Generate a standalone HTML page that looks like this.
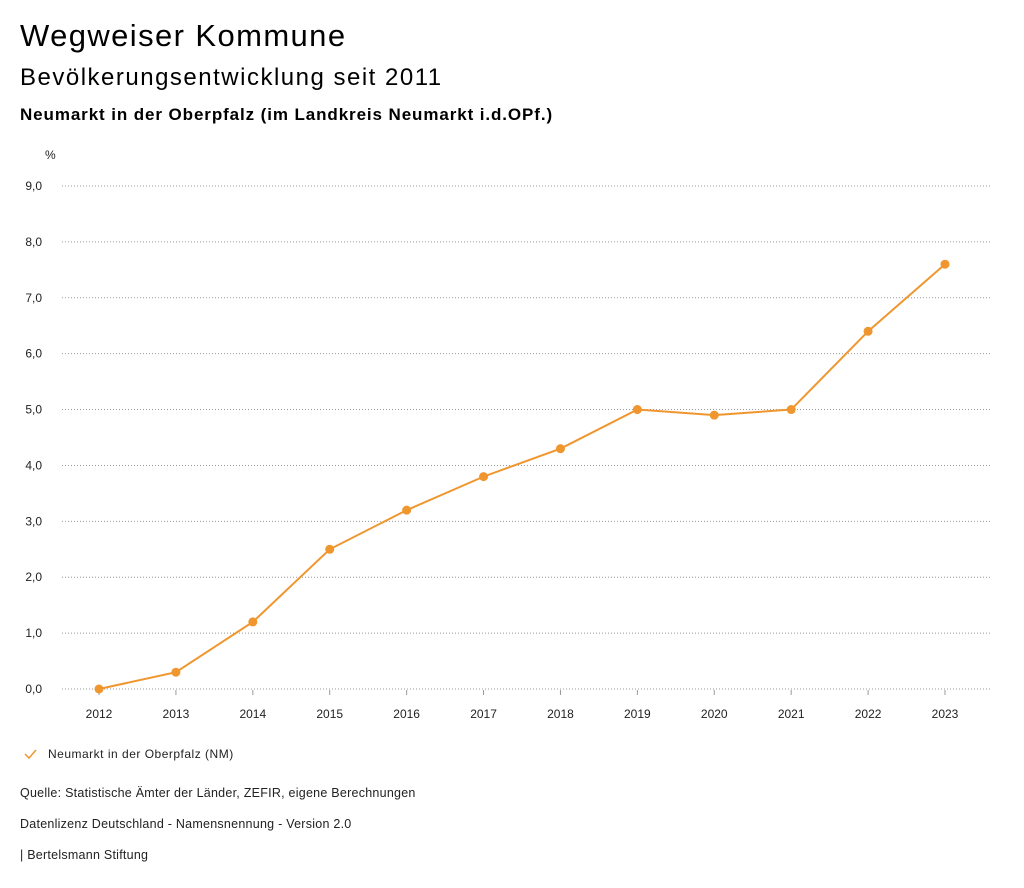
<!DOCTYPE html>
<html><head><meta charset="utf-8">
<style>
body{margin:0;background:#fff;width:1024px;height:888px;overflow:hidden;font-family:"Liberation Sans",sans-serif;color:#000}
.t1{position:absolute;left:20px;top:18px;font-size:31px;letter-spacing:1.4px}
.t2{position:absolute;left:20px;top:64px;font-size:24px;letter-spacing:1.5px}
.t3{position:absolute;left:20px;top:105px;font-size:17px;font-weight:bold;letter-spacing:0.9px}
.src{position:absolute;left:20px;font-size:12.5px;color:#222;letter-spacing:0.25px}
</style></head><body>
<div class="t1">Wegweiser Kommune</div>
<div class="t2">Bevölkerungsentwicklung seit 2011</div>
<div class="t3">Neumarkt in der Oberpfalz (im Landkreis Neumarkt i.d.OPf.)</div>
<svg id="chart" width="1024" height="888" style="position:absolute;left:0;top:0"></svg>
<div class="src" style="top:786px">Quelle: Statistische Ämter der Länder, ZEFIR, eigene Berechnungen</div>
<div class="src" style="top:817px">Datenlizenz Deutschland - Namensnennung - Version 2.0</div>
<div class="src" style="top:848px">| Bertelsmann Stiftung</div>
<script>
const years=[2012,2013,2014,2015,2016,2017,2018,2019,2020,2021,2022,2023];
const values=[0.0,0.3,1.2,2.5,3.2,3.8,4.3,5.0,4.9,5.0,6.4,7.6];
const yTicks=[0,1,2,3,4,5,6,7,8,9];
const NS="http://www.w3.org/2000/svg";
const svg=document.getElementById('chart');
const color="#f0962e";
function xs(i){return 99+i*(945-99)/(years.length-1);}
function ys(v){return 689-v*(689-186)/9;}
function mk(tag,a,txt){const e=document.createElementNS(NS,tag);for(const k in a)e.setAttribute(k,a[k]);if(txt!==undefined)e.textContent=txt;svg.appendChild(e);return e;}
const unit=mk('text',{x:45,y:159,'font-size':12,fill:'#222','font-family':'Liberation Sans'},'%');


yTicks.forEach(v=>{
 const y=ys(v);
 const g=mk('line',{x1:62,x2:990,y1:y,y2:y,stroke:'#999','stroke-width':1,'stroke-dasharray':'1,2'});
 
 
 const t=mk('text',{x:42,y:y+4,'font-size':12,'text-anchor':'end',fill:'#222','font-family':'Liberation Sans'},v.toFixed(1).replace('.',','));
 
 
});
years.forEach((yr,i)=>{
 const x=xs(i);
 const tk=mk('line',{x1:x,x2:x,y1:690,y2:695,stroke:'#999','stroke-width':1});
 
 
 const t=mk('text',{x:x,y:718,'font-size':12,'text-anchor':'middle',fill:'#222','font-family':'Liberation Sans'},yr);
 
 
});
const line=mk('polyline',{points:values.map((v,i)=>xs(i)+','+ys(v)).join(' '),fill:'none',stroke:color,'stroke-width':2});


values.forEach((v,i)=>{
 const c=mk('circle',{cx:xs(i),cy:ys(v),r:4.5,fill:color});
 
 
});
const chk=mk('polyline',{points:'25,754 29,758 36,750',fill:'none',stroke:color,'stroke-width':1.5});


const lt=mk('text',{x:48,y:758,'font-size':12,fill:'#222','font-family':'Liberation Sans','letter-spacing':0.5},'Neumarkt in der Oberpfalz (NM)');


</script>
</body></html>
